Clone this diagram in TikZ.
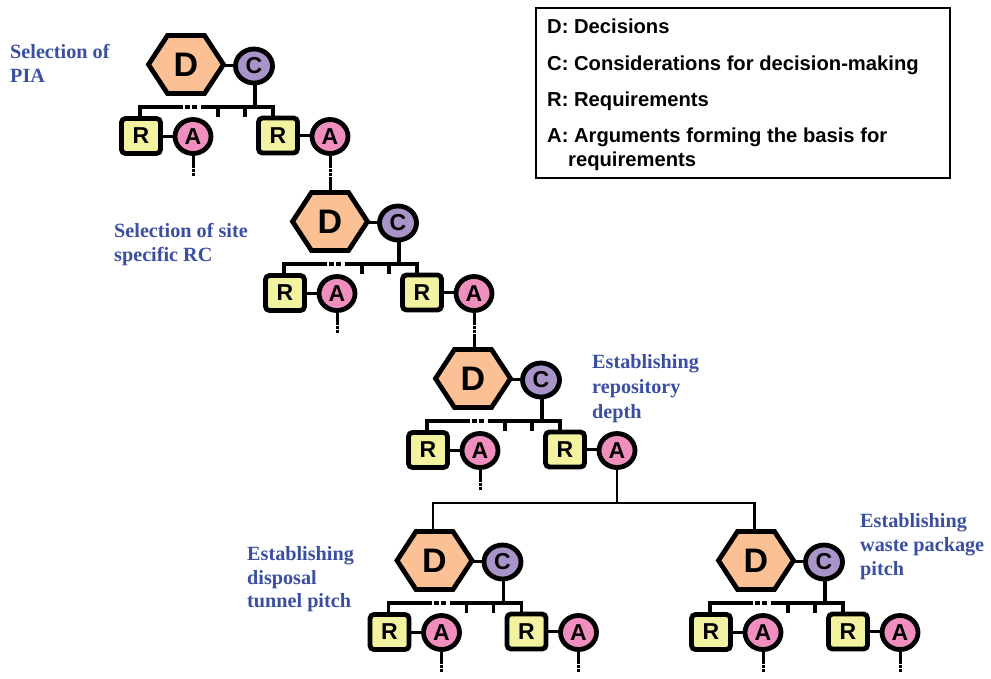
\documentclass[tikz,border=0pt]{standalone}
\usepackage{fontspec}
\setmainfont{Liberation Sans}
\newfontfamily\labelfont{Liberation Serif}
\usetikzlibrary{shapes.geometric}
\definecolor{dfill}{HTML}{FBC093}
\definecolor{cfill}{HTML}{A894C8}
\definecolor{rfill}{HTML}{F2F2A0}
\definecolor{afill}{HTML}{F08EBE}
\definecolor{lblue}{HTML}{3B4FA0}
\tikzset{
  hexshape/.style={draw=black,fill=dfill,line width=4.8pt,line join=miter},
  dtext/.style={minimum width=74pt,minimum height=59pt,inner sep=0pt,font=\fontsize{34}{34}\selectfont\bfseries},
  cnode/.style={ellipse,draw=black,fill=cfill,line width=4.8pt,minimum width=37pt,minimum height=34pt,inner sep=0pt,font=\fontsize{23}{23}\selectfont\bfseries},
  anode/.style={ellipse,draw=black,fill=afill,line width=4.8pt,minimum width=36pt,minimum height=34pt,inner sep=0pt,font=\fontsize{23}{23}\selectfont\bfseries},
  rnode/.style={rectangle,rounded corners=4pt,draw=black,fill=rfill,line width=4.8pt,minimum width=39pt,minimum height=35pt,inner sep=0pt,font=\fontsize{23}{23}\selectfont\bfseries},
  wire/.style={line width=3pt,draw=black},
  busline/.style={line width=3.5pt,draw=black},
  dotline/.style={line width=3pt,draw=black,dash pattern=on 2.5pt off 1.5pt},
  busdots/.style={line width=3.5pt,draw=black,dash pattern=on 5pt off 2pt},
  treeline/.style={line width=2.5pt,draw=black},
  lbl/.style={anchor=base west,inner sep=0pt,text=lblue,font=\labelfont\fontsize{20.2}{20.2}\selectfont\bfseries},
  legendtext/.style={anchor=base west,inner sep=0pt,font=\fontsize{20.2}{20.2}\selectfont\bfseries},
  legendbox/.style={draw=black,line width=1.2pt,fill=white},
}
\newcommand{\decisionunit}[3]{%
\begin{scope}[shift={(#2,#3)}]
  \draw[hexshape] (-37.5,-0.5) -- (-18.5,-29.5) -- (18.5,-29.5) -- (37.5,-0.5) -- (18.5,28.5) -- (-18.5,28.5) -- cycle;
  \node[dtext] (#1D) at (0,0) {D};
  \coordinate (#1Dr) at (37,0);
  \coordinate (#1Dt) at (-1.5,-30);
  \coordinate (#1bl) at (-46,42);
  \coordinate (#1bla) at (-8,42);
  \coordinate (#1blb) at (12,42);
  \coordinate (#1blc) at (15,42);
  \coordinate (#1br) at (87,42);
  \coordinate (#1tia) at (32,42);
  \coordinate (#1tib) at (32,52);
  \coordinate (#1tic) at (59,42);
  \coordinate (#1tid) at (59,52);
  \coordinate (#1bs) at (69,42);
  \coordinate (#1rla) at (-46,52);
  \coordinate (#1rrb) at (87,52);
  \coordinate (#1sa) at (7,100);
  \coordinate (#1sb) at (7,111);
  \coordinate (#1sc) at (144,100);
  \coordinate (#1sd) at (144,112);
  \draw[wire] (#1Dr) -- (68,0);
  \draw[wire] (-45,71) -- (7,71);
  \draw[wire] (92,70.5) -- (144,70.5);
  \draw[busline] (69,20) -- (#1bs);
  \draw[busline] (#1bla) -- (#1bl) -- (#1rla);
  \draw[busdots] (#1bla) -- (#1blb);
  \draw[busline] (#1blc) -- (#1br) -- (#1rrb);
  \draw[busline] (#1tia) -- (#1tib);
  \draw[busline] (#1tic) -- (#1tid);
  \node[cnode] (#1C) at (68,1) {C};
  \node[rnode] (#1Ra) at (-45,71) {R};
  \node[anode] (#1Aa) at (7,71.5) {A};
  \node[rnode] (#1Rb) at (92,70.5) {R};
  \node[anode] (#1Ab) at (144,71.5) {A};
  \draw[wire] (#1Aa.south) -- (#1sa);
  \draw[dotline] (#1sa) -- (#1sb);
\end{scope}}
\begin{document}
\begin{tikzpicture}[x=1pt,y=-1pt]
\useasboundingbox (0,0) rectangle (991,678);
\decisionunit{a}{186}{65}
\decisionunit{b}{330}{222}
\decisionunit{c}{473}{379}
\decisionunit{d}{434.5}{561}
\decisionunit{e}{756}{561}
% links between units
\draw[wire] (aAb.south) -- (asc);
\draw[dotline] (asc) -- (asd);
\draw[wire] (asd) -- (asd|-bDt);
\draw[wire] (bAb.south) -- (bsc);
\draw[dotline] (bsc) -- (bsd);
\draw[wire] (bsd) -- (bsd|-cDt);
\coordinate (treel) at (dDt|-0,503);
\coordinate (treer) at (eDt|-0,503);
\coordinate (treem) at (cAb.south|-0,503);
\draw[treeline] (cAb.south) -- (treem);
\draw[treeline] (dDt) -- (treel) -- (treer) -- (eDt);
\draw[wire] (dAb.south) -- (dsc);
\draw[dotline] (dsc) -- (dsd);
\draw[wire] (eAb.south) -- (esc);
\draw[dotline] (esc) -- (esd);
% labels
\node[lbl] (l1) at (10,58) {Selection of};
\node[lbl] (l2) at (10,82) {PIA};
\node[lbl] (l3) at (114,237) {Selection of site};
\node[lbl] (l4) at (114,261) {specific RC};
\node[lbl] (l5) at (592,368) {Establishing};
\node[lbl] (l6) at (592,393) {repository};
\node[lbl] (l7) at (592,418) {depth};
\node[lbl] (l8) at (247,560) {Establishing};
\node[lbl] (l9) at (247,584) {disposal};
\node[lbl] (l10) at (247,607) {tunnel pitch};
\node[lbl] (l11) at (860,527) {Establishing};
\node[lbl] (l12) at (860,551) {waste package};
\node[lbl] (l13) at (860,575) {pitch};
% legend
\draw[legendbox] (536,8) rectangle (950,178);
\node[legendtext] (k1) at (547,33.5) {D: Decisions};
\node[legendtext] (k2) at (547,70) {C: Considerations for decision-making};
\node[legendtext] (k3) at (547,106) {R: Requirements};
\node[legendtext] (k4) at (547,142.5) {A: Arguments forming the basis for};
\node[legendtext] (k5) at (568,166.5) {requirements};
\end{tikzpicture}
\end{document}
